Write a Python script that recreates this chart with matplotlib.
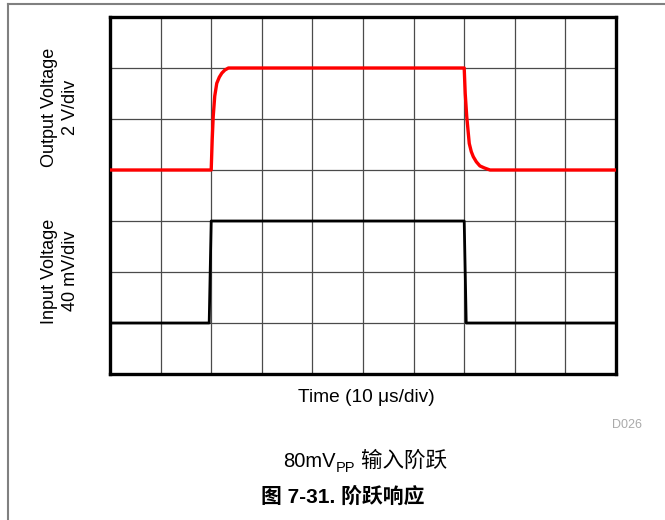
import matplotlib
matplotlib.use("Agg")
import matplotlib.pyplot as plt
from matplotlib.lines import Line2D

plt.rcParams['font.family'] = ['Liberation Sans', 'Noto Sans CJK SC', 'DejaVu Sans']

# scope traces, in divisions (x: 10 us/div, y: screen divisions)
t_in = [0, 1.96, 2.0, 7.0, 7.04, 10]
v_in = [1, 1, 3, 3, 1, 1]
t_out = [0, 2.0, 2.02, 2.04, 2.07, 2.11, 2.16, 2.21, 2.27, 2.34,
         7.0, 7.02, 7.05, 7.1, 7.14, 7.18, 7.24, 7.31, 7.4, 7.51, 10]
v_out = [4, 4, 4.6, 5.05, 5.45, 5.7, 5.82, 5.9, 5.96, 6.0,
         6.0, 5.5, 5.05, 4.52, 4.36, 4.26, 4.16, 4.08, 4.04, 4.0, 4.0]

W, H = 665, 520
fig = plt.figure(figsize=(W / 100, H / 100), dpi=100)
ax = fig.add_axes([110 / W, 1 - 374 / H, 506 / W, 357 / H])

ax.set_xlim(0, 10)
ax.set_ylim(0, 7)
for x in range(1, 10):
    ax.axvline(x, color='#4a4a4a', lw=0.9, zorder=1)
for y in range(1, 7):
    ax.axhline(y, color='#4a4a4a', lw=0.9, zorder=1)

ax.plot(t_out, v_out, color='#ff0000', lw=2.4, zorder=3, solid_joinstyle='round')
ax.plot(t_in, v_in, color='black', lw=2.0, zorder=3)

ax.set_xticks([])
ax.set_yticks([])
for s in ax.spines.values():
    s.set_linewidth(2.4)
    s.set_color('black')

# axis labels
fig.text(60 / W, 1 - 107 / H, "Output Voltage\n2 V/div", rotation=90,
         ha='center', va='center', fontsize=13, linespacing=1.25, multialignment='center')
fig.text(60 / W, 1 - 271 / H, "Input Voltage\n40 mV/div", rotation=90,
         ha='center', va='center', fontsize=13, linespacing=1.25, multialignment='center')
fig.text(366 / W, 1 - 397 / H, "Time (10 \u03bcs/div)", ha='center', va='center', fontsize=13.8)
fig.text(627 / W, 1 - 425 / H, "D026", ha='center', va='center', fontsize=9, color='#aaaaaa')

# caption with subscript, assembled piece by piece
fig.canvas.draw()
r = fig.canvas.get_renderer()
base_y = 1 - 467 / H
p1 = fig.text(0, base_y, "80mV", ha='left', va='baseline', fontsize=14.5)
p2 = fig.text(0, base_y - 5 / H, "PP", ha='left', va='baseline', fontsize=10.5)
p3 = fig.text(0, base_y, " 输入阶跃", ha='left', va='baseline', fontsize=15.5)
w1 = p1.get_window_extent(r).width
w2 = p2.get_window_extent(r).width
w3 = p3.get_window_extent(r).width
start = 365 - (w1 + w2 + w3) / 2
p1.set_x(start / W)
p2.set_x((start + w1) / W)
p3.set_x((start + w1 + w2) / W)

fig.text(343 / W, 1 - 497 / H, "图 7-31. 阶跃响应", ha='center', va='center',
         fontsize=15, fontweight='bold')

# outer page frame
fig.add_artist(Line2D([8 / W, 8 / W], [0, 1 - 4 / H], color='#808080', lw=1.5))
fig.add_artist(Line2D([8 / W, 1], [1 - 4 / H, 1 - 4 / H], color='#808080', lw=1.5))

fig.savefig("out.png", dpi=100)
